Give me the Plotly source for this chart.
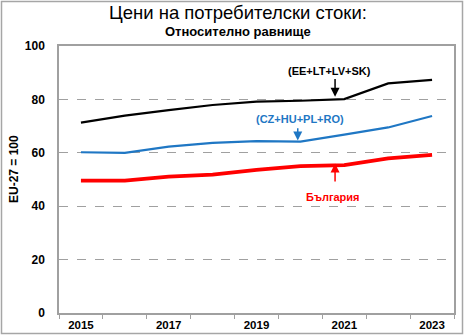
import plotly.graph_objects as go

years = [2015, 2016, 2017, 2018, 2019, 2020, 2021, 2022, 2023]
baltic_sk = [71.3, 73.9, 76.0, 77.9, 79.2, 79.5, 80.1, 86.0, 87.3]
cz_hu_pl_ro = [60.2, 60.0, 62.3, 63.7, 64.4, 64.2, 66.8, 69.5, 73.8]
bulgaria = [49.6, 49.6, 51.1, 51.8, 53.6, 55.0, 55.4, 57.9, 59.2]
year_labels = ["2015", "2017", "2019", "2021", "2023"]
y_ticks = [0, 20, 40, 60, 80, 100]

FONT = "Liberation Sans, Arial, sans-serif"
fig = go.Figure()
fig.add_trace(go.Scatter(x=years, y=baltic_sk, mode="lines",
                         line=dict(color="black", width=2.2)))
fig.add_trace(go.Scatter(x=years, y=cz_hu_pl_ro, mode="lines",
                         line=dict(color="#1f77c4", width=2.2)))
fig.add_trace(go.Scatter(x=years, y=bulgaria, mode="lines",
                         line=dict(color="#ff0000", width=3.8)))

L, R, T, B = 59, 11, 46, 23
W, H = 465, 336
pw, ph = W - L - R, H - T - B

def px_x(p):
    return (p - L) / pw

def px_y(p):
    return (H - B - p) / ph

fig.update_layout(
    width=W, height=H,
    margin=dict(l=L, r=R, t=T, b=B, autoexpand=False),
    paper_bgcolor="white", plot_bgcolor="white",
    showlegend=False,
    font=dict(family=FONT, color="black"),
    xaxis=dict(range=[2014.5, 2023.5], tickvals=[int(y) for y in year_labels],
               ticktext=year_labels, ticks="", showgrid=False, zeroline=False,
               showline=True, linecolor="#a0a0a0", linewidth=1.5, mirror=True,
               ticklabelstandoff=0, automargin=False,
               tickfont=dict(size=11.5, family=FONT, weight="bold"),
               minor=dict(tick0=2014.5, dtick=1, ticks="outside", ticklen=4,
                          tickcolor="#a0a0a0", showgrid=False)),
    yaxis=dict(range=[0, 100], tickvals=y_ticks, ticks="", showgrid=True,
               gridcolor="#a0a0a0", griddash="dash", gridwidth=1, zeroline=False,
               showline=True, linecolor="#a0a0a0", linewidth=1.5, mirror=True,
               ticklabelstandoff=10, automargin=False,
               tickfont=dict(size=12, family=FONT, weight="bold")),
)

anns = [
    dict(text="Цени на потребителски стоки:", x=px_x(238), y=px_y(13),
         font=dict(size=18.5, family=FONT)),
    dict(text="<b>Относително равнище</b>", x=px_x(238), y=px_y(31),
         font=dict(size=13, family=FONT)),
    dict(text="<b>EU-27 = 100</b>", x=px_x(14), y=px_y(169), textangle=-90,
         font=dict(size=12, family=FONT)),
]
for a in anns:
    fig.add_annotation(xref="paper", yref="paper", showarrow=False,
                       xanchor="center", yanchor="middle", **a)

fig.add_annotation(x=2020.67, y=90.6, text="<b>(EE+LT+LV+SK)</b>", showarrow=False,
                   font=dict(size=11, color="black", family=FONT))
fig.add_annotation(x=2019.99, y=72.7, text="<b>(CZ+HU+PL+RO)</b>", showarrow=False,
                   font=dict(size=11, color="#1f77c4", family=FONT))
fig.add_annotation(x=2020.74, y=43.4, text="<b>България</b>", showarrow=False,
                   font=dict(size=11, color="#ff0000", family=FONT))

for (x, yh, yt, c) in [(2020.79, 81.0, 88.2, "black"),
                       (2019.94, 64.6, 69.8, "#1f77c4"),
                       (2020.79, 56.0, 48.7, "#ff0000")]:
    fig.add_annotation(x=x, y=yh, ax=x, ay=yt, axref="x", ayref="y", text="",
                       showarrow=True, arrowhead=2, arrowsize=1.2, arrowwidth=1.5,
                       arrowcolor=c)

fig.add_shape(type="rect", xref="paper", yref="paper",
              x0=px_x(1.5), x1=px_x(W - 2.5), y0=px_y(H - 2.5), y1=px_y(1.5),
              line=dict(color="#a6a6a6", width=1.5), layer="below")

fig.write_html("out.html")
